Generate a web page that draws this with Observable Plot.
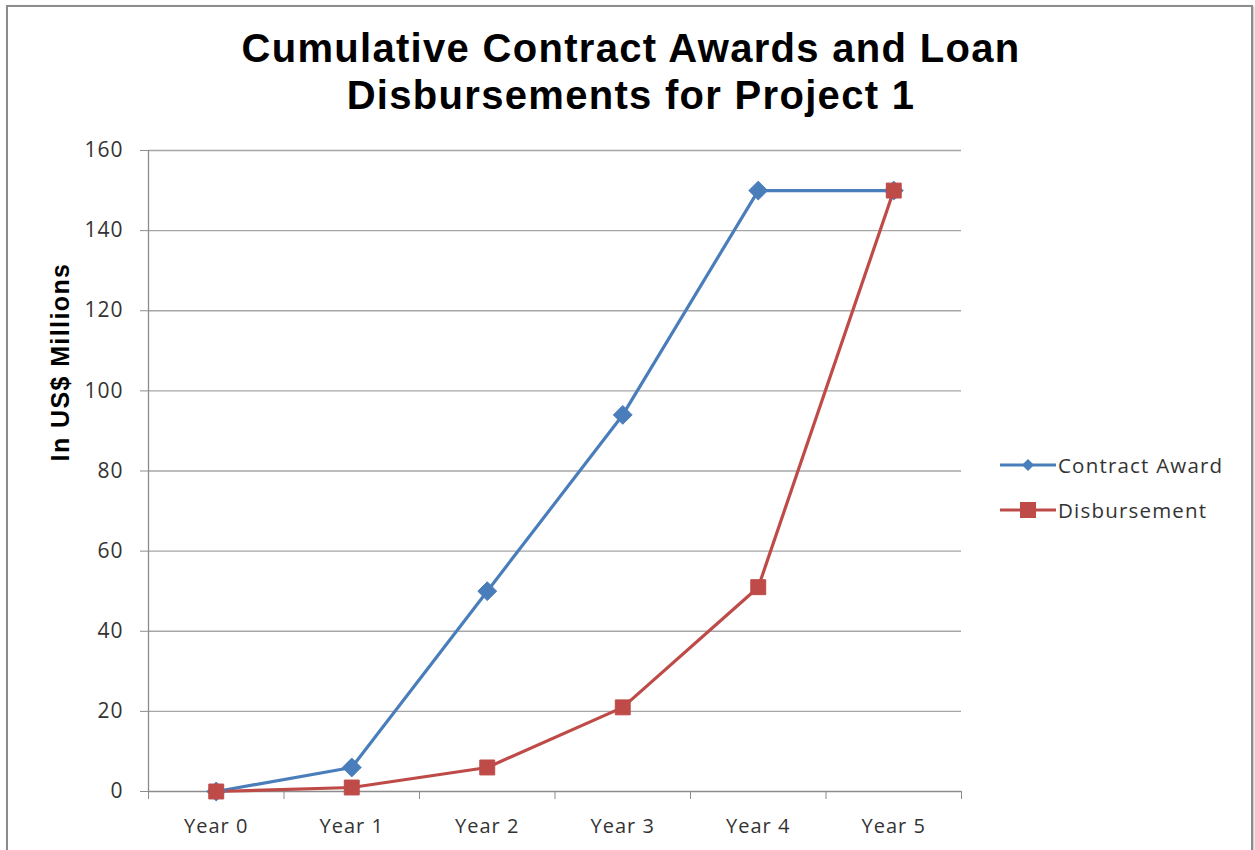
<!DOCTYPE html>
<html>
<head>
<meta charset="utf-8">
<script src="https://cdn.jsdelivr.net/npm/d3@7"></script>
<script src="https://cdn.jsdelivr.net/npm/@observablehq/plot@0.6"></script>
<style>
  body { margin: 0; background: #fff; }
  #wrap { position: relative; width: 1255px; height: 850px; overflow: hidden; background: #fff; }
  #frame { position: absolute; left: 6px; top: 5px; width: 1243px; height: 860px; border: 2px solid #8c8c8c; box-shadow: 1px 1px 2px #bbb; }
  #title { position: absolute; left: 0; top: 25px; width: 1262px; text-align: center; font-family: "Liberation Sans", Arial, sans-serif; font-weight: bold; font-size: 40px; line-height: 47px; letter-spacing: 1.3px; color: #000; }
  #ylabel { position: absolute; left: 60px; top: 362px; transform: translate(-50%, -50%) rotate(-90deg); white-space: nowrap; font-family: "Liberation Sans", Arial, sans-serif; font-weight: bold; font-size: 25px; letter-spacing: 1.4px; color: #000; }
  #chart { position: absolute; left: 0; top: 120px; }
  #legend { position: absolute; left: 1000px; top: 442px; font-family: "Open Sans", "Liberation Sans", sans-serif; font-size: 20.5px; letter-spacing: 1.2px; color: #333; }
  #legend .item { display: flex; align-items: center; height: 45px; }
  #legend svg { margin-right: 2px; }
</style>
</head>
<body>
<div id="wrap">
  <div id="frame"></div>
  <div id="title">Cumulative Contract Awards and Loan<br>Disbursements for Project 1</div>
  <div id="ylabel">In US$ Millions</div>
  <div id="chart"></div>
  <div id="legend"></div>
</div>
<script>
const years = ["Year 0", "Year 1", "Year 2", "Year 3", "Year 4", "Year 5"];
const contractAward = [0, 6, 50, 94, 150, 150];
const disbursement = [0, 1, 6, 21, 51, 150];
const seriesNames = ["Contract Award", "Disbursement"];
const seriesColors = ["#4a7ebb", "#be4b48"];
const yTicks = [0, 20, 40, 60, 80, 100, 120, 140, 160];

const rows = [];
years.forEach((y, i) => {
  rows.push({series: seriesNames[0], i, year: y, value: contractAward[i]});
  rows.push({series: seriesNames[1], i, year: y, value: disbursement[i]});
});
const ca = rows.filter(d => d.series === seriesNames[0]);
const db = rows.filter(d => d.series === seriesNames[1]);
const boundaries = d3.range(years.length + 1).map(k => k - 0.5);

const plot = Plot.plot({
  width: 1000,
  height: 720,
  marginLeft: 148,
  marginRight: 39,
  marginTop: 30,
  marginBottom: 49,
  style: {fontFamily: "'Open Sans', 'Liberation Sans', sans-serif", fontSize: "20px", color: "#333", background: "transparent", letterSpacing: "1px"},
  x: {domain: [-0.5, years.length - 0.5], axis: null},
  y: {domain: [0, 160], axis: null},
  marks: [
    Plot.ruleY(yTicks.filter(t => t > 0), {stroke: "#a6a6a6", strokeWidth: 1.3}),
    Plot.axisY({ticks: yTicks, tickSize: 8, tickPadding: 17, label: null, tickFormat: d => d, stroke: "#8c8c8c", fill: "#333", fontSize: 21, style: {letterSpacing: "2px"}}),
    Plot.axisX({ticks: boundaries, tickSize: 8, label: null, tickFormat: () => "", stroke: "#8c8c8c"}),
    Plot.axisX({ticks: d3.range(years.length), tickSize: 0, tickPadding: 27, label: null, tickFormat: i => years[i], fill: "#333", fontSize: 20}),
    Plot.ruleX([-0.5], {y1: 0, y2: 160, stroke: "#8c8c8c", strokeWidth: 1.3}),
    Plot.ruleY([0], {stroke: "#8c8c8c", strokeWidth: 1.3}),
    Plot.line(ca, {x: "i", y: "value", stroke: seriesColors[0], strokeWidth: 3.2}),
    Plot.line(db, {x: "i", y: "value", stroke: seriesColors[1], strokeWidth: 3.2}),
    Plot.dot(ca, {x: "i", y: "value", symbol: "diamond2", r: 8.5, fill: seriesColors[0], stroke: seriesColors[0], strokeWidth: 1}),
    Plot.dot(db, {x: "i", y: "value", symbol: "square2", r: 9.5, fill: seriesColors[1], stroke: seriesColors[1], strokeWidth: 1})
  ]
});
document.getElementById("chart").appendChild(plot);

// Legend
const legend = d3.select("#legend");
seriesNames.forEach((name, k) => {
  const item = legend.append("div").attr("class", "item");
  const svg = item.append("svg").attr("width", 56).attr("height", 20);
  svg.append("line").attr("x1", 0).attr("x2", 56).attr("y1", 10).attr("y2", 10)
     .attr("stroke", seriesColors[k]).attr("stroke-width", 3);
  if (k === 0) {
    svg.append("path").attr("d", "M28,4 L34,10 L28,16 L22,10 Z").attr("fill", seriesColors[k]);
  } else {
    svg.append("rect").attr("x", 20).attr("y", 2).attr("width", 16).attr("height", 16).attr("fill", seriesColors[k]);
  }
  item.append("span").text(name);
});
</script>
</body>
</html>
